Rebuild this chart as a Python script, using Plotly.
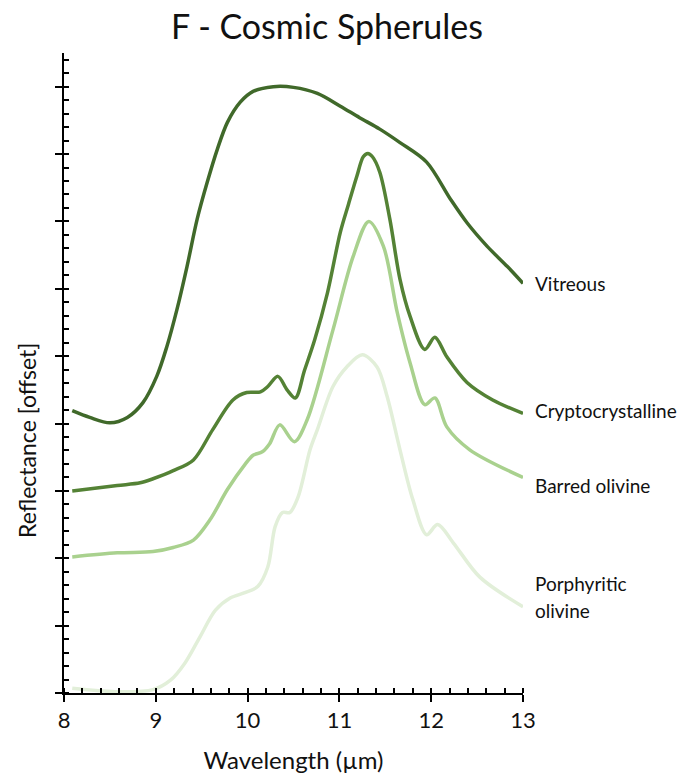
import plotly.graph_objects as go

# ---- data (wavelength in µm, reflectance offset units) ----
vit_x = [8.09, 8.28, 8.50, 8.69, 8.86, 9.01, 9.12, 9.23, 9.34, 9.45, 9.56, 9.67, 9.78, 9.92,
         10.06, 10.28, 10.50, 10.76, 11.01, 11.22, 11.44, 11.66, 11.95, 12.21, 12.39, 12.61, 12.83, 13.00]
vit_y = [4.19, 4.09, 4.01, 4.09, 4.31, 4.70, 5.14, 5.69, 6.33, 7.03, 7.58, 8.07, 8.47, 8.77,
         8.93, 9.00, 8.99, 8.90, 8.71, 8.54, 8.37, 8.17, 7.88, 7.33, 6.98, 6.63, 6.33, 6.08]

cry_x = [8.09, 8.58, 8.83, 8.97, 9.19, 9.41, 9.62, 9.84, 9.99, 10.14, 10.22, 10.33, 10.43, 10.52,
         10.62, 10.73, 10.87, 11.01, 11.10, 11.19, 11.26, 11.31, 11.36, 11.44, 11.55, 11.66, 11.77,
         11.93, 12.04, 12.17, 12.39, 12.67, 13.00]
cry_y = [3.00, 3.08, 3.12, 3.18, 3.30, 3.46, 3.91, 4.35, 4.46, 4.47, 4.55, 4.70, 4.50, 4.38,
         4.79, 5.24, 5.94, 6.84, 7.26, 7.67, 7.96, 8.01, 7.96, 7.73, 7.03, 6.14, 5.59,
         5.10, 5.28, 4.99, 4.61, 4.35, 4.15]

bar_x = [8.09, 8.58, 8.97, 9.19, 9.41, 9.59, 9.78, 9.97, 10.06, 10.16, 10.24, 10.35, 10.51,
         10.65, 10.93, 11.15, 11.32, 11.48, 11.63, 11.77, 11.93, 12.04, 12.17, 12.42, 13.00]
bar_y = [2.02, 2.08, 2.10, 2.16, 2.27, 2.57, 3.02, 3.39, 3.53, 3.58, 3.70, 3.98, 3.73,
         4.06, 5.39, 6.48, 7.00, 6.63, 5.65, 4.90, 4.28, 4.38, 3.95, 3.61, 3.20]

por_x = [8.09, 8.56, 8.97, 9.16, 9.32, 9.48, 9.65, 9.81, 9.97, 10.11, 10.22, 10.30, 10.38,
         10.46, 10.55, 10.68, 10.76, 10.93, 11.08, 11.25, 11.41, 11.52, 11.66, 11.80, 11.95,
         12.07, 12.24, 12.53, 13.00]
por_y = [0.07, 0.02, 0.05, 0.19, 0.45, 0.83, 1.23, 1.41, 1.49, 1.58, 1.87, 2.47, 2.68,
         2.68, 2.91, 3.61, 3.91, 4.55, 4.84, 5.02, 4.84, 4.40, 3.61, 2.87, 2.35,
         2.50, 2.23, 1.72, 1.28]

series_names = ["Vitreous", "Cryptocrystalline", "Barred olivine", "Porphyritic olivine"]
series_x = [vit_x, cry_x, bar_x, por_x]
series_y = [vit_y, cry_y, bar_y, por_y]
colors = ["#40692a", "#548235", "#a9d18e", "#e2efd9"]

label_texts = ["Vitreous", "Cryptocrystalline", "Barred olivine", "Porphyritic", "olivine"]
label_y = [6.08, 4.19, 3.08, 1.62, 1.22]

x_ticks = [8, 9, 10, 11, 12, 13]

FONT = "Lato, 'Open Sans', sans-serif"
Y_MAX = 9.5

fig = go.Figure()
for name, xs, ys, c in zip(series_names, series_x, series_y, colors):
    fig.add_trace(go.Scatter(x=xs, y=ys, mode="lines", name=name,
                             line=dict(color=c, width=3.5, shape="spline", smoothing=0.9),
                             showlegend=False, hoverinfo="skip"))

for t, yv in zip(label_texts, label_y):
    fig.add_annotation(x=1.022, y=yv / Y_MAX, xref="paper", yref="paper", text=t, showarrow=False,
                       xanchor="left", yanchor="middle",
                       font=dict(family=FONT, size=19, color="#111111"))

fig.add_annotation(x=-0.081, y=0.395, xref="paper", yref="paper", text="Reflectance [offset]",
                   showarrow=False, textangle=-90, xanchor="center", yanchor="middle",
                   font=dict(family=FONT, size=23, color="#111111"))

axis_common = dict(showgrid=False, zeroline=False, automargin=False)

fig.update_layout(
    width=700, height=780,
    margin=dict(l=64, r=177, t=53, b=87, autoexpand=False),
    paper_bgcolor="white", plot_bgcolor="white",
    title=dict(text="F - Cosmic Spherules", x=327 / 700, xanchor="center", y=1 - 27 / 780,
               yanchor="middle", font=dict(family=FONT, size=34, color="#111111")),
    xaxis=dict(range=[8, 13], tickvals=x_ticks, ticks="outside", ticklen=7, tickwidth=2,
               tickcolor="black", showline=True, linecolor="black", linewidth=2,
               tickfont=dict(family=FONT, size=22, color="#111111"),
               minor=dict(dtick=0.2, ticks="inside", ticklen=5, tickwidth=2, tickcolor="black"),
               title=dict(text="Wavelength (µm)", font=dict(family=FONT, size=24, color="#111111"),
                          standoff=20),
               **axis_common),
    yaxis=dict(range=[0, Y_MAX], dtick=1, tick0=0, ticks="outside", ticklen=7, tickwidth=2,
               tickcolor="black", showline=True, linecolor="black", linewidth=2,
               showticklabels=False,
               minor=dict(dtick=0.2, ticks="inside", ticklen=5, tickwidth=2, tickcolor="black"),
               **axis_common),
    xaxis2=dict(range=[8, 13], overlaying="x", side="bottom", tickvals=x_ticks, ticks="inside",
                ticklen=5, tickwidth=2, tickcolor="black", showticklabels=False, showline=False,
                **axis_common),
    yaxis2=dict(range=[0, Y_MAX], overlaying="y", side="left", dtick=1, tick0=0, ticks="inside",
                ticklen=5, tickwidth=2, tickcolor="black", showticklabels=False, showline=False,
                **axis_common),
)
# invisible trace to activate the overlay axes
fig.add_trace(go.Scatter(x=[8], y=[0], xaxis="x2", yaxis="y2", mode="markers",
                         marker=dict(opacity=0), showlegend=False, hoverinfo="skip"))

fig.write_html("out.html")
